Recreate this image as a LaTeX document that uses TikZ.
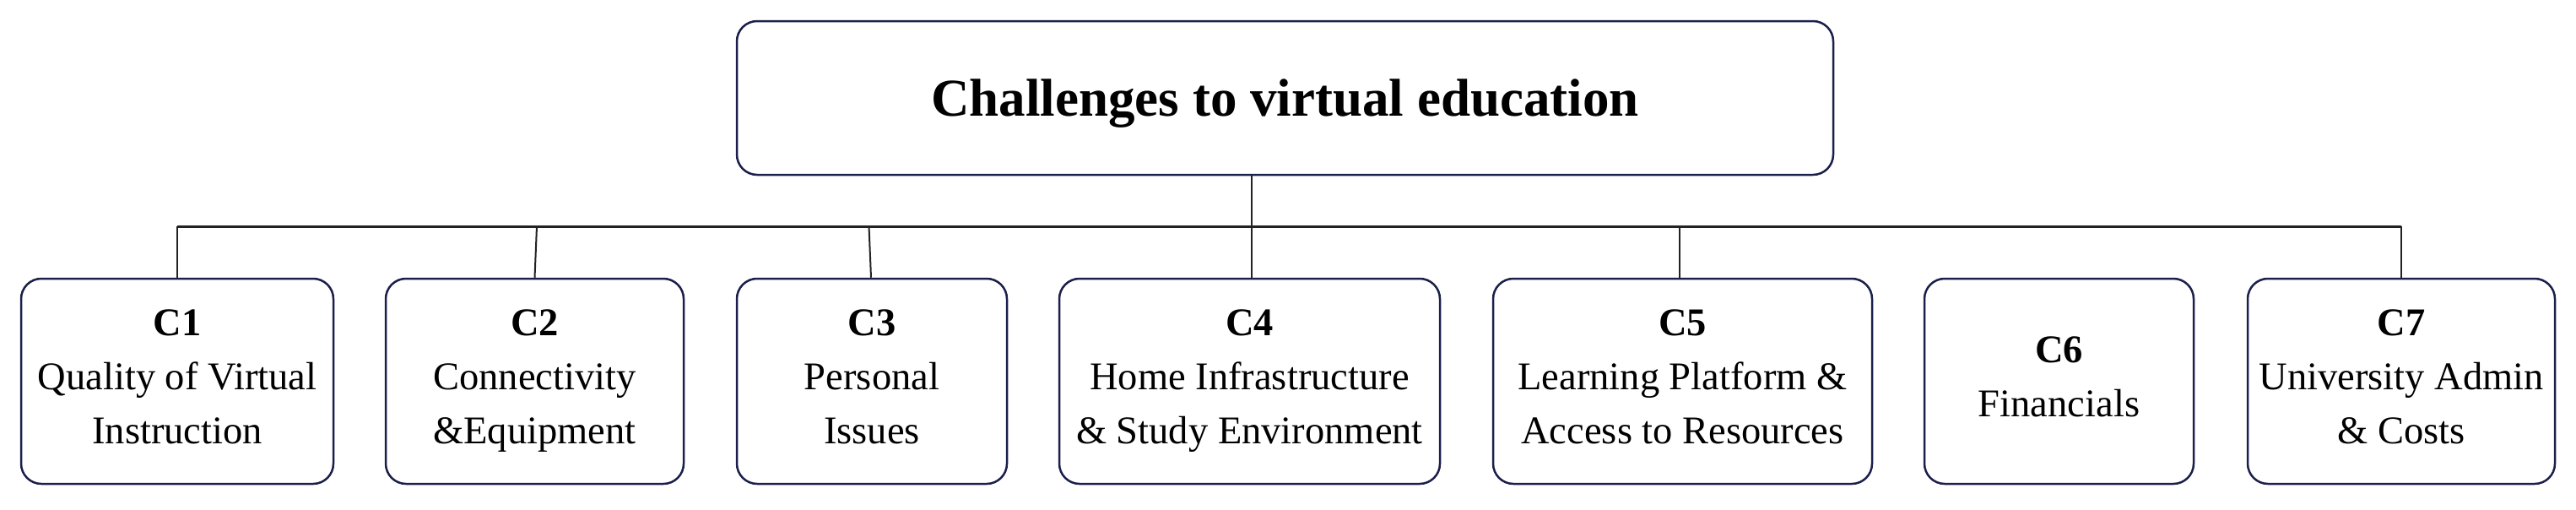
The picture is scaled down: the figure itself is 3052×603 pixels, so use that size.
\documentclass[tikz,border=0pt]{standalone}
\usepackage{fontspec}
\setmainfont{Liberation Serif}
\definecolor{boxline}{HTML}{1B1F4B}
\definecolor{connline}{HTML}{222222}
\begin{document}
\begin{tikzpicture}[x=1pt,y=-1pt,
  box/.style={draw=boxline, line width=2.5pt, rounded corners=24pt, fill=white,
    minimum height=243pt, inner sep=0pt, align=center,
    font=\fontsize{46.5}{64}\selectfont, text depth=11pt},
  titlebox/.style={draw=boxline, line width=2.5pt, rounded corners=24pt, fill=white,
    minimum width=1299pt, minimum height=182pt, inner sep=0pt,
    font=\bfseries\fontsize{63}{70}\selectfont, text depth=0pt},
  conn/.style={draw=connline, line width=2pt},
  busline/.style={draw=connline, line width=3pt}]
\useasboundingbox (0,0) rectangle (3052,603);
\node[titlebox] (top) at (1522.5,116) {Challenges to virtual education};
\node[box, minimum width=370pt] (c1) at (210,451.5) {\textbf{C1}\\Quality of Virtual\\Instruction};
\node[box, minimum width=353pt] (c2) at (633.5,451.5) {\textbf{C2}\\Connectivity\\\&Equipment};
\node[box, minimum width=320pt] (c3) at (1033,451.5) {\textbf{C3}\\Personal\\Issues};
\node[box, minimum width=451pt] (c4) at (1480.5,451.5) {\textbf{C4}\\Home Infrastructure\\\& Study Environment};
\node[box, minimum width=449pt] (c5) at (1993.5,451.5) {\textbf{C5}\\Learning Platform \&\\Access to Resources};
\node[box, minimum width=319pt] (c6) at (2439.5,451.5) {\textbf{C6}\\Financials};
\node[box, minimum width=364pt] (c7) at (2845,451.5) {\textbf{C7}\\University Admin\\\& Costs};
\coordinate (busy) at (0,268);
\draw[busline] (c1.north |- busy) -- (c7.north |- busy);
\draw[conn] ([xshift=2.5pt]top.south -| c4.north) -- ([xshift=2.5pt]c4.north |- busy);
\draw[conn] (c1.north |- busy) -- (c1.north);
\draw[conn] ([xshift=2.5pt]c2.north |- busy) -- (c2.north);
\draw[conn] ([xshift=-3.5pt]c3.north |- busy) -- ([xshift=-1pt]c3.north);
\draw[conn] ([xshift=2.5pt]c4.north |- busy) -- ([xshift=2.5pt]c4.north);
\draw[conn] ([xshift=-3.5pt]c5.north |- busy) -- ([xshift=-3.5pt]c5.north);
\draw[conn] (c7.north |- busy) -- (c7.north);
\end{tikzpicture}
\end{document}
